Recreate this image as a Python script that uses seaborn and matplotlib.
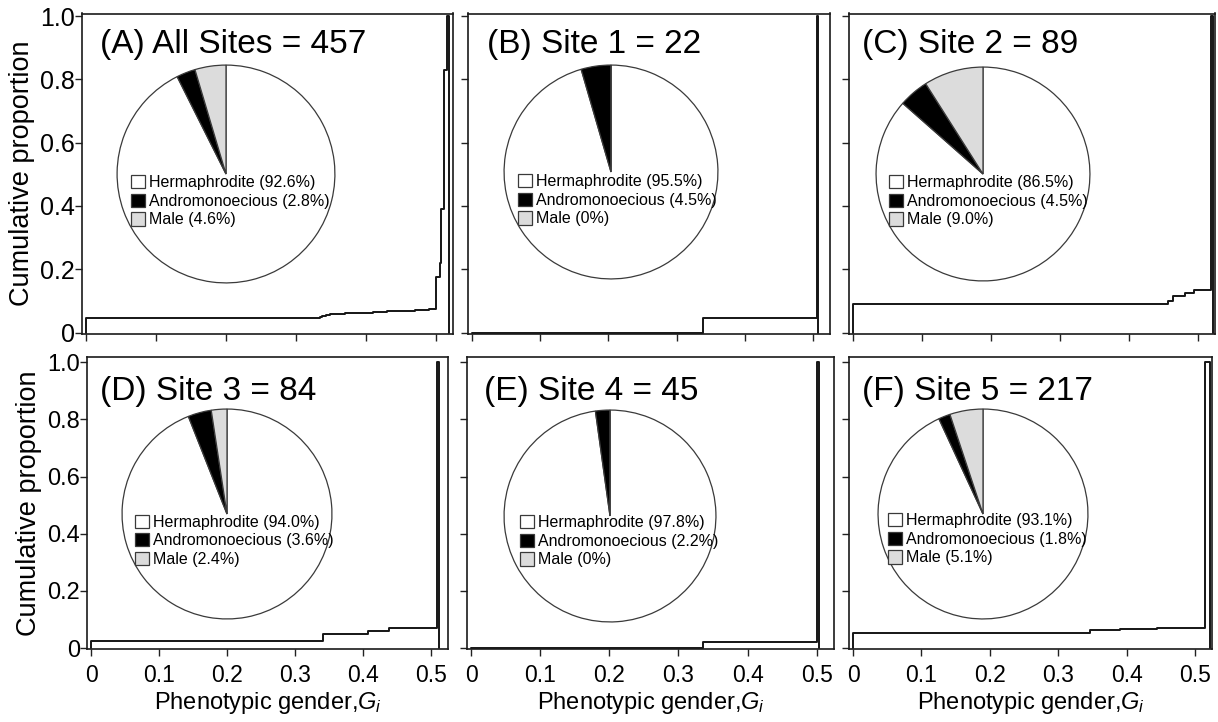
import matplotlib
matplotlib.use("Agg")
import matplotlib.pyplot as plt
import seaborn as sns

# ---- data -------------------------------------------------------------
panel_titles = ["(A) All Sites = 457", "(B) Site 1 = 22", "(C) Site 2 = 89",
                "(D) Site 3 = 84", "(E) Site 4 = 45", "(F) Site 5 = 217"]

morph_labels = ["Hermaphrodite", "Andromonoecious", "Male"]
morph_colors = ["white", "black", "#dcdcdc"]

# % of plants per morph (Hermaphrodite, Andromonoecious, Male)
pct_A = [92.6, 2.8, 4.6]
pct_B = [95.5, 4.5, 0.0]
pct_C = [86.5, 4.5, 9.0]
pct_D = [94.0, 3.6, 2.4]
pct_E = [97.8, 2.2, 0.0]
pct_F = [93.1, 1.8, 5.1]

# cumulative distribution of phenotypic gender: step positions (G_i),
# cumulative proportion after each step, and the last bin edge
gi_A = [0.0, 0.334, 0.338, 0.343, 0.349, 0.37, 0.39, 0.41, 0.43, 0.45,
        0.47, 0.49, 0.501, 0.506, 0.508, 0.512, 0.516]
cum_A = [0.046, 0.049, 0.053, 0.056, 0.059, 0.061, 0.063, 0.065, 0.067,
         0.069, 0.071, 0.074, 0.174, 0.22, 0.39, 0.83, 1.0]
end_A = 0.519

gi_B = [0.0, 0.339, 0.506]
cum_B = [0.0, 0.045, 1.0]
end_B = 0.507

gi_C = [0.0, 0.457, 0.464, 0.482, 0.494, 0.519]
cum_C = [0.09, 0.10, 0.115, 0.124, 0.136, 1.0]
end_C = 0.522

gi_D = [0.0, 0.341, 0.408, 0.438, 0.509]
cum_D = [0.024, 0.048, 0.06, 0.071, 1.0]
end_D = 0.512

gi_E = [0.0, 0.335, 0.501]
cum_E = [0.0, 0.022, 1.0]
end_E = 0.503

gi_F = [0.0, 0.347, 0.39, 0.444, 0.515]
cum_F = [0.052, 0.064, 0.067, 0.071, 1.0]
end_F = 0.522

x_ticks = [0, 0.1, 0.2, 0.3, 0.4, 0.5]
x_tick_labels = ["0", "0.1", "0.2", "0.3", "0.4", "0.5"]
y_ticks = [0, 0.2, 0.4, 0.6, 0.8, 1.0]
y_tick_labels = ["0", "0.2", "0.4", "0.6", "0.8", "1.0"]

panels = [
    (pct_A, gi_A, cum_A, end_A),
    (pct_B, gi_B, cum_B, end_B),
    (pct_C, gi_C, cum_C, end_C),
    (pct_D, gi_D, cum_D, end_D),
    (pct_E, gi_E, cum_E, end_E),
    (pct_F, gi_F, cum_F, end_F),
]

# ---- layout (pixels) --------------------------------------------------
W, H = 1218, 722
axes_px = [(82, 453, 13.5, 333.5), (468, 830, 13.5, 333.5), (849, 1215, 13.5, 333.5),
           (87, 448, 357, 649), (467, 834, 357, 649), (849, 1212, 357, 649)]
pie_px = [(226, 174, 110), (611, 172, 108), (983, 174, 108),
          (227, 514, 106), (610, 516, 107), (983, 514, 106)]
legend_px = [(131, 175), (518, 174), (889, 175),
             (135, 514.5), (520, 515), (888, 513)]
title_px = [(100, 53), (487, 53), (862, 53),
            (100, 400), (484, 400), (862, 400)]

sns.set_style("ticks")
plt.rcParams["font.family"] = ["Liberation Sans", "DejaVu Sans"]
plt.rcParams["mathtext.fontset"] = "custom"
plt.rcParams["mathtext.rm"] = "Liberation Sans"
plt.rcParams["mathtext.it"] = "Liberation Sans:italic"
plt.rcParams["text.color"] = "black"
plt.rcParams["axes.labelcolor"] = "black"
plt.rcParams["xtick.color"] = "black"
plt.rcParams["ytick.color"] = "black"

fig = plt.figure(figsize=(W / 100, H / 100), dpi=100)

for i, (pct, gi, cum, end) in enumerate(panels):
    l, r, t, b = axes_px[i]
    ax = fig.add_axes([l / W, 1 - b / H, (r - l) / W, (b - t) / H])
    row, col = divmod(i, 3)

    xs = [gi[0]] + gi + [end]
    ys = [0] + cum + [0]
    sns.lineplot(x=xs, y=ys, sort=False, estimator=None, drawstyle="steps-post",
                 color="#151515", lw=1.4, ax=ax)

    ax.set_xlim(-0.006, 0.525)
    ax.set_ylim(-0.003, 1.008 if row == 0 else 1.018)
    ax.set_xticks(x_ticks)
    ax.set_xticklabels(x_tick_labels, fontsize=16.5)
    ax.set_yticks(y_ticks)
    ax.set_yticklabels(y_tick_labels, fontsize=18 if row == 0 else 17)
    ax.tick_params(direction="out", length=5, width=1, color="#222222")
    ax.tick_params(axis="y", pad=0)
    ax.tick_params(axis="x", pad=6)
    for sp in ax.spines.values():
        sp.set_visible(True)
        sp.set_color("#1a1a1a")
        sp.set_linewidth(1.2)
    if row == 0:
        ax.tick_params(labelbottom=False)
    else:
        ax.set_xlabel("Phenotypic gender,$G_i$", fontsize=17, labelpad=2)
    if col == 0:
        ax.set_ylabel("Cumulative proportion", fontsize=19.5, labelpad=4)
    else:
        ax.tick_params(labelleft=False)

    # pie inset
    cx, cy, rad = pie_px[i]
    pax = fig.add_axes([(cx - rad) / W, 1 - (cy + rad) / H, 2 * rad / W, 2 * rad / H])
    wedges, _ = pax.pie(pct, colors=morph_colors, startangle=90, counterclock=False,
                        wedgeprops=dict(edgecolor="#3a3a3a", linewidth=0.9))
    pax.set_xlim(-1.01, 1.01)
    pax.set_ylim(-1.01, 1.01)

    labels = [f"{name} ({v:.1f}%)" if v > 0 else f"{name} (0%)"
              for name, v in zip(morph_labels, pct)]
    lx, ly = legend_px[i]
    fig.legend(wedges, labels, loc="upper left", bbox_to_anchor=(lx / W, 1 - ly / H),
               frameon=False, borderpad=0, borderaxespad=0, handlelength=0.9,
               handleheight=0.9, handletextpad=0.2, labelspacing=0.22, fontsize=11.5)

    tx, ty = title_px[i]
    fig.text(tx / W, 1 - ty / H, panel_titles[i], fontsize=24, ha="left", va="baseline")

fig.savefig("out.png", dpi=100)
